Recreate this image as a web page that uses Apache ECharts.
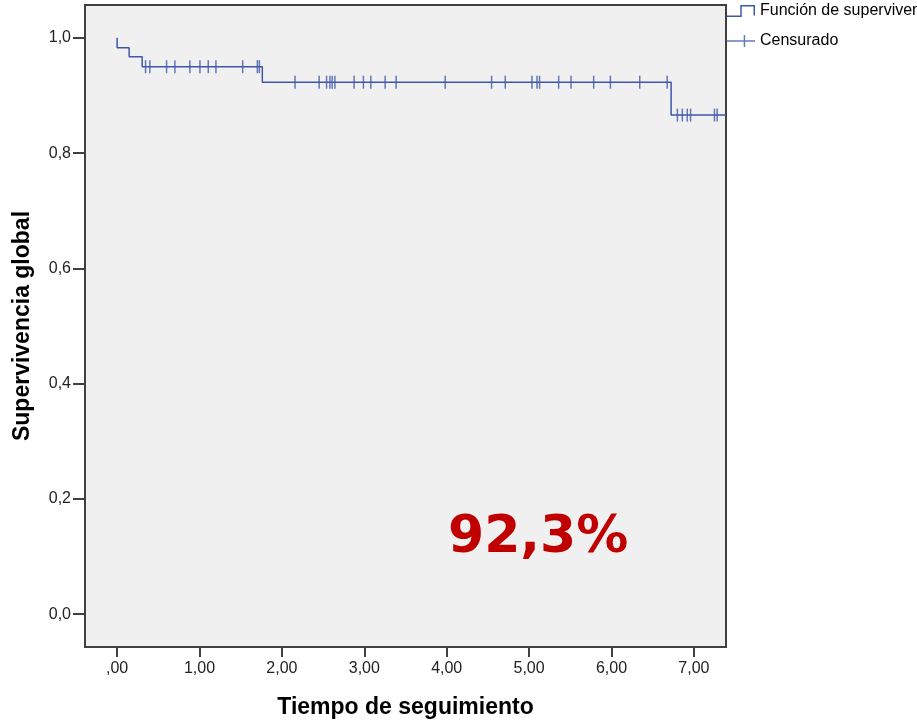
<!DOCTYPE html>
<html>
<head>
<meta charset="utf-8">
<script src="https://cdn.jsdelivr.net/npm/echarts@6.0.0/dist/echarts.min.js"></script>
<style>
  html, body { margin: 0; padding: 0; background: #fff; }
  #chart { width: 917px; height: 724px; }
</style>
</head>
<body>
<div id="chart"></div>
<script>
// curva de Kaplan-Meier (tiempo en años, supervivencia)
var eventTimes = [0, 0, 0.146, 0.304, 1.762, 6.724, 7.39];
var survival   = [1, 0.983, 0.967, 0.950, 0.923, 0.866, 0.866];

// tiempos censurados
var censoredTimes = [
  0.345, 0.397, 0.600, 0.701, 0.883, 1.005, 1.106, 1.199, 1.524, 1.702, 1.726,
  2.159, 2.452, 2.542, 2.582, 2.610, 2.643, 2.876, 2.989, 3.079, 3.253, 3.386,
  3.982, 4.545, 4.711, 5.035, 5.096, 5.127, 5.359, 5.509, 5.784, 5.987, 6.343,
  6.676, 6.800, 6.860, 6.920, 6.960, 7.250, 7.283
];

var xTicks = [0, 1, 2, 3, 4, 5, 6, 7];
var xTickLabels = [',00', '1,00', '2,00', '3,00', '4,00', '5,00', '6,00', '7,00'];
var yTicks = [0, 0.2, 0.4, 0.6, 0.8, 1.0];
var yTickLabels = ['0,0', '0,2', '0,4', '0,6', '0,8', '1,0'];

var seriesNames = ['Función de supervivencia', 'Censurado'];
var bigLabel = '92,3%';

var blue = '#3f57aa';

function levelAt(t) {
  var s = survival[0];
  for (var i = 0; i < eventTimes.length; i++) {
    if (eventTimes[i] <= t) s = survival[i];
  }
  return s;
}

function tickLabel(ticks, labels) {
  return function (v) {
    for (var i = 0; i < ticks.length; i++) {
      if (Math.abs(ticks[i] - v) < 1e-6) return labels[i];
    }
    return '';
  };
}

var curveData = eventTimes.map(function (t, i) { return [t, survival[i]]; });
var censorData = censoredTimes.map(function (t) { return [t, levelAt(t)]; });

// iconos de la leyenda (escalón y cruz)
var stepIcon = 'path://M0,10.5 L13.5,10.5 L13.5,0 L28.5,0 L28.5,10.5 L27,10.5 L27,1.5 L15,1.5 L15,12 L0,12 Z';
var crossIcon = 'path://M0,5.25 L17,5.25 L17,0 L18.5,0 L18.5,5.25 L28.5,5.25 L28.5,6.75 L18.5,6.75 L18.5,12 L17,12 L17,6.75 L0,6.75 Z';

var myChart = echarts.init(document.getElementById('chart'));

var option = {
  animation: false,
  backgroundColor: '#ffffff',
  textStyle: { fontFamily: 'Liberation Sans, Arial, sans-serif' },
  grid: {
    left: 85, right: 191, top: 5, bottom: 74,
    show: true,
    backgroundColor: '#f0f0f0',
    borderColor: '#404040',
    borderWidth: 2
  },
  legend: {
    orient: 'vertical',
    left: 722, top: -2,
    itemWidth: 28, itemHeight: 12,
    itemGap: 14,
    selectedMode: false,
    itemStyle: { borderWidth: 0 },
    textStyle: { fontSize: 16, color: '#000', fontFamily: 'Liberation Sans, Arial, sans-serif' },
    data: [
      { name: seriesNames[0], icon: stepIcon },
      { name: seriesNames[1], icon: crossIcon }
    ]
  },
  xAxis: {
    type: 'value',
    min: -0.39, max: 7.39,
    name: 'Tiempo de seguimiento',
    nameLocation: 'middle',
    nameGap: 49,
    nameTextStyle: { fontSize: 23, fontWeight: 'bold', color: '#000' },
    axisLine: { show: false, onZero: false },
    axisTick: { show: true, customValues: xTicks, length: 10, lineStyle: { color: '#404040', width: 2 } },
    axisLabel: { customValues: xTicks, margin: 14, fontSize: 16, color: '#222', formatter: tickLabel(xTicks, xTickLabels) },
    splitLine: { show: false }
  },
  yAxis: {
    type: 'value',
    min: -0.057, max: 1.057,
    name: 'Supervivencia global',
    nameLocation: 'middle',
    nameGap: 51,
    nameTextStyle: { fontSize: 23, fontWeight: 'bold', color: '#000' },
    axisLine: { show: false, onZero: false },
    axisTick: { show: true, customValues: yTicks, length: 12, lineStyle: { color: '#404040', width: 2 } },
    axisLabel: { customValues: yTicks, margin: 14, fontSize: 16, color: '#222', formatter: tickLabel(yTicks, yTickLabels) },
    splitLine: { show: false }
  },
  series: [
    {
      name: seriesNames[0],
      type: 'line',
      step: 'end',
      showSymbol: false,
      color: blue,
      lineStyle: { color: blue, width: 1.5 },
      data: curveData,
      z: 3
    },
    {
      name: seriesNames[1],
      type: 'scatter',
      symbol: 'rect',
      symbolSize: [1.5, 13],
      color: blue,
      itemStyle: { color: blue },
      data: censorData,
      z: 4
    }
  ],
  graphic: [
    {
      type: 'text',
      left: 448,
      top: 512,
      z: 100,
      style: {
        text: bigLabel,
        fill: '#c00000',
        font: 'bold 52px "DejaVu Sans", Verdana, sans-serif'
      }
    }
  ]
};

myChart.setOption(option);
</script>
</body>
</html>
